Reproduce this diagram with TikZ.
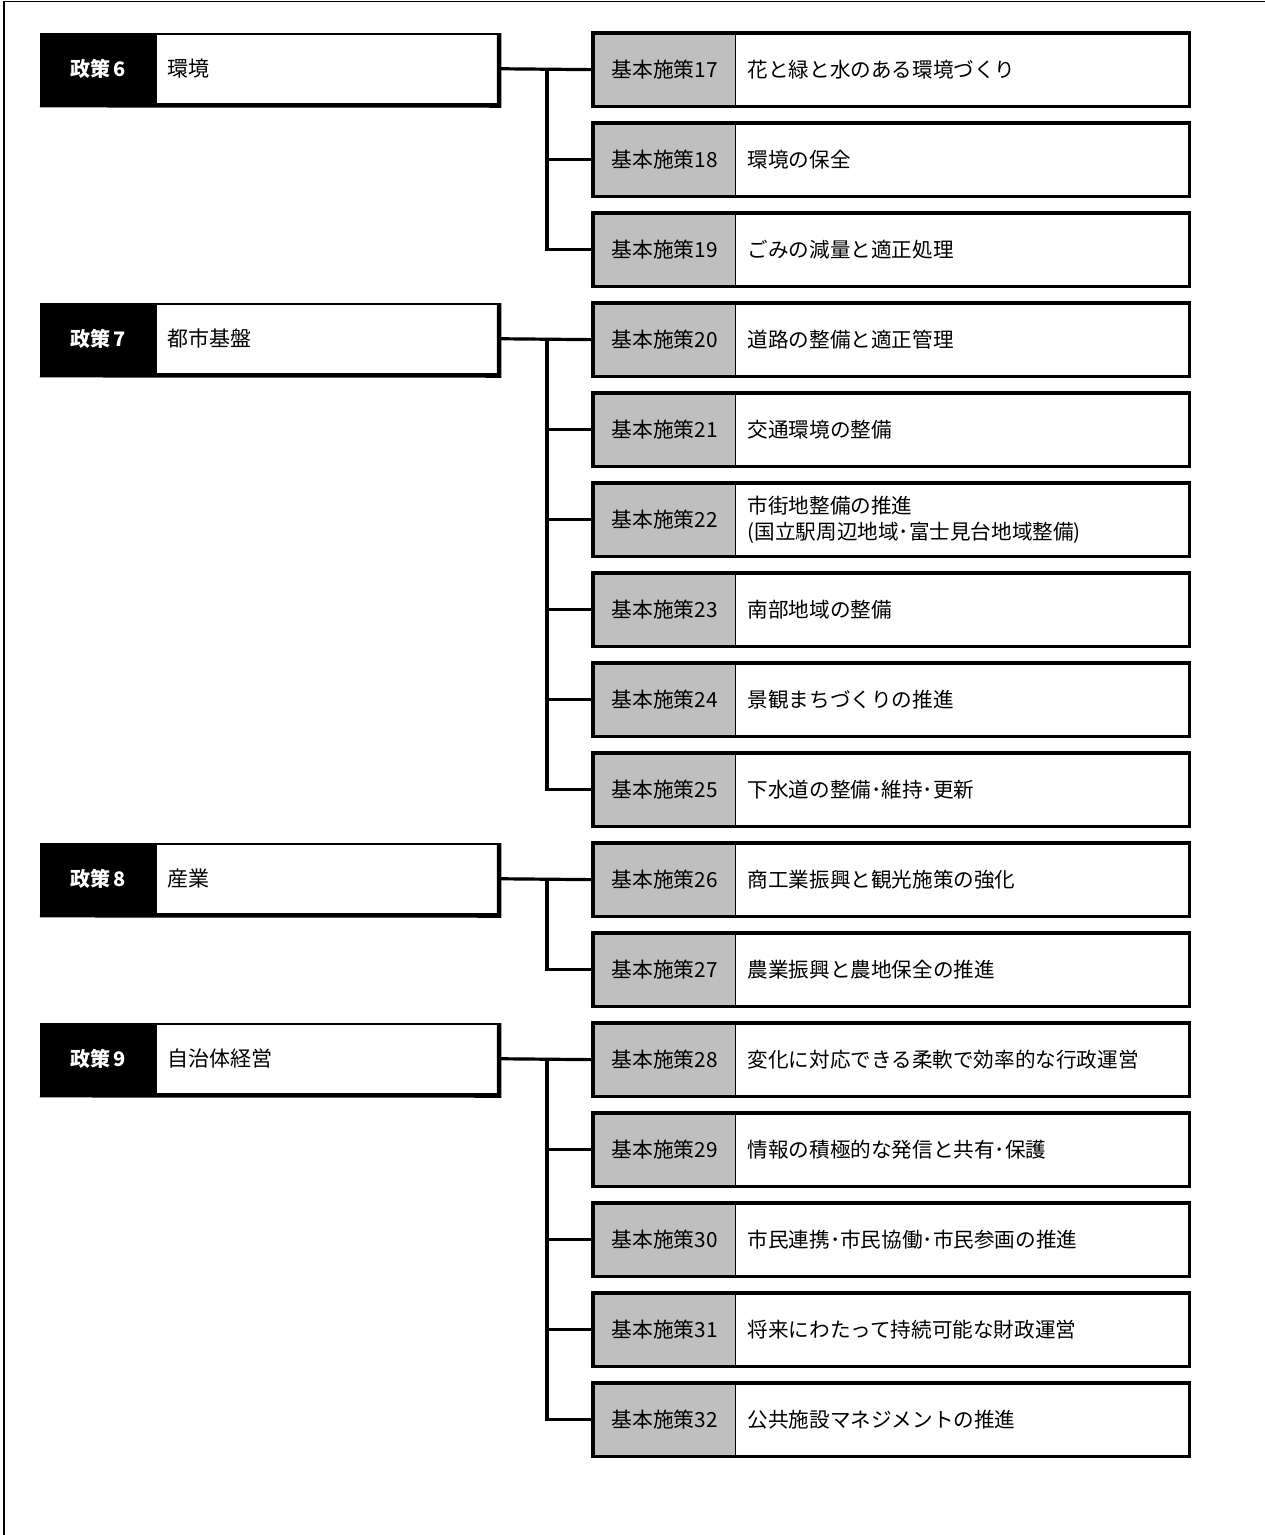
\documentclass[tikz,border=0pt]{standalone}
\usepackage{fontspec}
\setmainfont{Noto Sans CJK JP}
\begin{document}
\begin{tikzpicture}[x=1pt,y=-1pt,
  frame/.style={line width=1.5pt},
  polkey/.style={fill=black, draw=black, line width=1.2pt, minimum width=115pt, minimum height=70pt, inner sep=0pt, anchor=north west, text=white, font=\fontsize{20}{23}\selectfont\bfseries},
  polname/.style={draw=black, line width=1.5pt, fill=white, minimum height=70pt, text width=319pt, inner xsep=12pt, inner ysep=0pt, align=left, anchor=north west, font=\fontsize{21}{24}\selectfont},
  polshade/.style={line width=4.5pt},
  subkey/.style={fill=black!25, draw=black, line width=1.3pt, minimum width=142pt, minimum height=72pt, inner sep=0pt, anchor=north west, font=\fontsize{20.8}{24}\selectfont},
  subname/.style={draw=black, line width=1.3pt, fill=white, minimum height=72pt, text width=429pt, inner xsep=12pt, inner ysep=0pt, align=left, anchor=north west, font=\fontsize{20.6}{26}\selectfont},
  subframe/.style={line width=3.5pt},
  conn/.style={line width=3.2pt}]
\useasboundingbox (0,0) rectangle (1265,1535);
\fill[white] (0,0) rectangle (1265,1535);
% outer frame
\coordinate (fTL) at (4,1.5);
\coordinate (fTR) at (1265,1.5);
\coordinate (fBL) at (4,1535);
\draw[frame] (fTR) -- (fTL) -- (fBL);

% policies
\foreach \r/\num/\name in {0/6/環境, 3/7/都市基盤, 9/8/産業, 11/9/自治体経営}{
  \node[polkey] (pk\num) at (40,33+90*\r) {政策\,\num};
  \node[polname] (p\num) at (155,33+90*\r) {\name};
  \draw[polshade] ([xshift=-0.5pt]p\num.north east) -- ([xshift=-0.5pt,yshift=-1pt]p\num.south east) -- ([yshift=-1pt]pk\num.south west);
}

% sub measures
\foreach \r/\num/\name in {
  0/17/花と緑と水のある環境づくり,
  1/18/環境の保全,
  2/19/ごみの減量と適正処理,
  3/20/道路の整備と適正管理,
  4/21/交通環境の整備,
  5/22/{市街地整備の推進\\(国立駅周辺地域･富士見台地域整備)},
  6/23/南部地域の整備,
  7/24/景観まちづくりの推進,
  8/25/下水道の整備･維持･更新,
  9/26/商工業振興と観光施策の強化,
  10/27/農業振興と農地保全の推進,
  11/28/変化に対応できる柔軟で効率的な行政運営,
  12/29/情報の積極的な発信と共有･保護,
  13/30/市民連携･市民協働･市民参画の推進,
  14/31/将来にわたって持続可能な財政運営,
  15/32/公共施設マネジメントの推進}{
  \node[subkey] (g\num) at (593,33+90*\r) {基本施策\num};
  \node[subname] (s\num) at (735,33+90*\r) {\name};
  \draw[subframe] (g\num.north west) rectangle (s\num.south east);
}

% trunks
\coordinate (t6) at (547,69);
\coordinate (t7) at (547,339);
\coordinate (t8) at (547,879);
\coordinate (t9) at (547,1059);

\draw[conn] (p6.east) -- (g17.west);
\draw[conn] (t6) |- (g18.west);
\draw[conn] (t6) |- (g19.west);

\draw[conn] (p7.east) -- (g20.west);
\foreach \n in {21,22,23,24,25} \draw[conn] (t7) |- (g\n.west);

\draw[conn] (p8.east) -- (g26.west);
\draw[conn] (t8) |- (g27.west);

\draw[conn] (p9.east) -- (g28.west);
\foreach \n in {29,30,31,32} \draw[conn] (t9) |- (g\n.west);
\end{tikzpicture}
\end{document}
